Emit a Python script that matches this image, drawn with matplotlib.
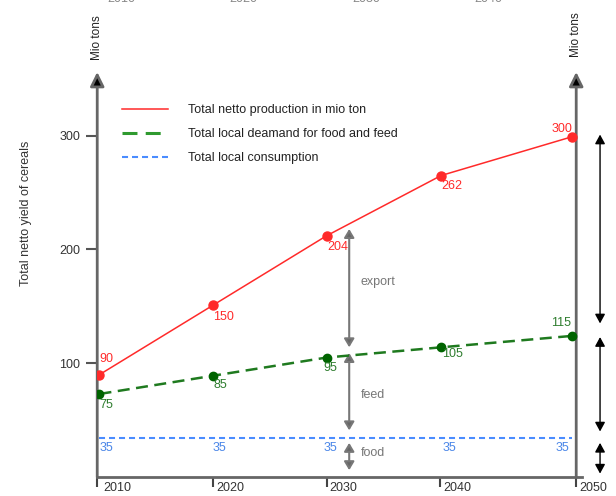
import matplotlib
matplotlib.use('Agg')
import matplotlib.pyplot as plt
from matplotlib.lines import Line2D
from matplotlib.transforms import ScaledTranslation

plt.rcParams['font.family'] = ['Liberation Sans', 'DejaVu Sans']

# data
years = ['2010', '2020', '2030', '2040', '2050']
x_pos = [2010, 2020, 2030, 2040.1, 2051.6]      # where the points sit
tick_pos = [2009.8, 2020, 2030, 2040, 2052.0]   # where the year ticks sit
production = [90, 151, 212, 265, 299]
production_lbl = ['90', '150', '204', '262', '300']
demand = [73, 89, 105, 114, 124]
demand_lbl = ['75', '85', '95', '105', '115']
consumption = [34, 34, 34, 34, 34]
consumption_lbl = ['35', '35', '35', '35', '35']

# brackets (bottom, top)
mid_x = 2032.0
mid_brackets = [(114, 218), (41, 109), (6, 30)]
mid_names = ['export', 'feed', 'food']
mid_name_y = [171, 72, 21]
right_x = 2054.1
right_brackets = [(135, 301), (40, 123), (3, 30)]

# cut-off year labels along the top edge (pixel x)
top_years = ['2010', '2020', '2030', '2040']
top_years_px = [107, 229, 352, 474]

RED = '#ff2a2a'
GREEN = '#1f7a1f'
BLUE = '#4a8cff'

fig = plt.figure(figsize=(6.16, 4.96), dpi=100)
ax = fig.add_axes([97 / 616, 19 / 496, 485 / 616, 405 / 496])
ax.set_xlim(2009.78, 2052.51)
ax.set_ylim(0, 356)

for s in ['top', 'right', 'left']:
    ax.spines[s].set_visible(False)
ax.spines['bottom'].set_color('#666666')
ax.spines['bottom'].set_linewidth(2)

# lines
ax.plot(x_pos, production, color=RED, lw=1.1, marker='o', ms=6.5, mfc=RED, mec=RED, zorder=4)
ax.plot(x_pos, demand, color=GREEN, lw=1.8, dashes=(4.8, 2.6), marker='o', ms=6,
        mfc='#006400', mec='#006400', zorder=4)
ax.plot(x_pos, consumption, color=BLUE, lw=1.5, dashes=(2.9, 1.9), zorder=3)

# value labels
red_off = [(0, 16, 'left'), (0, -12, 'left'), (1, -11, 'left'), (0, -10, 'left'), (1, 8, 'right')]
green_off = [(0, -11, 'left'), (0, -9, 'left'), (-3, -10, 'left'), (1, -7, 'left'), (-1, 13, 'right')]
blue_off = [(0, -10, 'left'), (0, -10, 'left'), (-3, -10, 'left'), (1, -10, 'left'), (-2, -10, 'right')]
for vals, lbls, offs, col in [(production, production_lbl, red_off, RED),
                              (demand, demand_lbl, green_off, '#2e7d2e'),
                              (consumption, consumption_lbl, blue_off, '#4a86e8')]:
    for x, v, t, (dx, dy, ha) in zip(x_pos, vals, lbls, offs):
        ax.annotate(t, (x, v), xytext=(dx, dy), textcoords='offset pixels',
                    ha=ha, va='center', fontsize=9, color=col, zorder=5)

# axes with arrow heads
ymax = ax.get_ylim()[1]
for ax_x in [tick_pos[0], tick_pos[-1]]:
    ax.annotate('', xy=(ax_x, ymax), xytext=(ax_x, 0),
                arrowprops=dict(arrowstyle='-|>,head_length=0.85,head_width=0.42',
                                fc='black', ec='#666666', lw=2, shrinkA=0, shrinkB=0,
                                mutation_scale=10),
                annotation_clip=False)
ax.text(tick_pos[0], 386, 'Mio tons', rotation=90, ha='center', va='center',
        fontsize=8.5, color='#222222')
ax.text(tick_pos[-1], 389, 'Mio tons', rotation=90, ha='center', va='center',
        fontsize=8.5, color='#222222')

# brackets in the middle
for (lo, hi), name, ny in zip(mid_brackets, mid_names, mid_name_y):
    ax.annotate('', xy=(mid_x, hi), xytext=(mid_x, lo),
                arrowprops=dict(arrowstyle='<|-|>,head_length=0.5,head_width=0.3',
                                fc='#666666', ec='#777777', lw=1.5, shrinkA=0, shrinkB=0,
                                mutation_scale=10))
    ax.text(mid_x + 1.0, ny, name, ha='left', va='center', fontsize=9, color='#777777')

# brackets at the far right
for lo, hi in right_brackets:
    ax.annotate('', xy=(right_x, hi), xytext=(right_x, lo),
                arrowprops=dict(arrowstyle='<|-|>,head_length=0.55,head_width=0.3',
                                fc='black', ec='black', lw=1, shrinkA=0, shrinkB=0,
                                mutation_scale=10),
                annotation_clip=False)

# ticks
ax.set_yticks([100, 200, 300])
ax.tick_params(axis='y', direction='out', length=8, width=1.5, color='#555555',
               labelsize=9, labelcolor='#333333', pad=4)
ax.set_xticks(tick_pos)
ax.set_xticklabels(years)
ax.tick_params(axis='x', direction='out', length=7, width=1.5, color='#444444',
               labelsize=9, labelcolor='#333333', pad=-3.4)
for i, lab in enumerate(ax.get_xticklabels()):
    lab.set_ha('left')
    shift = 6 if i == 0 else 3
    lab.set_transform(lab.get_transform() + ScaledTranslation(shift / 100, 0, fig.dpi_scale_trans))

ax.text(2003.5, 232, 'Total netto yield of cereals', rotation=90, ha='center', va='center',
        fontsize=9, color='#333333')

# legend
handles = [Line2D([], [], color=RED, lw=1.1),
           Line2D([], [], color='#2f9a2f', lw=2.2, dashes=(4.9, 2.7)),
           Line2D([], [], color=BLUE, lw=1.5, dashes=(2.9, 1.9))]
names = ['Total netto production in mio ton',
         'Total local deamand for food and feed',
         'Total local consumption']
leg = ax.legend(handles, names, loc='upper left', bbox_to_anchor=(0.0515, 0.92),
                frameon=False, fontsize=9, handlelength=3.7, handletextpad=1.6,
                labelspacing=0.95, borderpad=0, borderaxespad=0)
for t in leg.get_texts():
    t.set_color('#222222')

# year labels cut off at the top edge
for fx, yr in zip(top_years_px, top_years):
    fig.text(fx / 616, 1 - 2.5 / 496, yr, ha='left', va='baseline', fontsize=9, color='#888888')

fig.savefig('out.png', dpi=100)
